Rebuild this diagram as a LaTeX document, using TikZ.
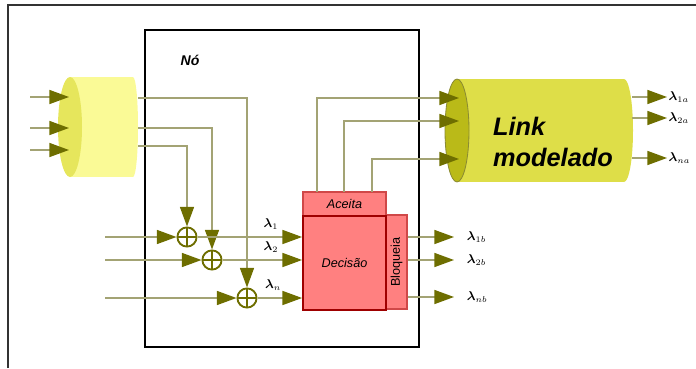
\documentclass[tikz,border=0pt]{standalone}
\usepackage{fontspec}
\setmainfont{Liberation Sans}
\usepackage{amsmath,bm}
\usetikzlibrary{arrows.meta}
\definecolor{LMOlive}{HTML}{6E6E00}
\definecolor{LMWire}{HTML}{A3A374}
\definecolor{LMBufBody}{HTML}{FAFA96}
\definecolor{LMBufFace}{HTML}{E6E65C}
\definecolor{LMLinkBody}{HTML}{DEDE48}
\definecolor{LMLinkFace}{HTML}{BABA18}
\definecolor{LMRed}{HTML}{FF8080}
\definecolor{LMRedLine}{HTML}{9E0000}
\definecolor{LMRedEdge}{HTML}{D04848}
\definecolor{LMFrame}{HTML}{333333}

\begin{document}
\begin{tikzpicture}[x=0.025cm,y=-0.025cm,
  wire/.style={LMWire,line width=1pt},
  arr/.style={wire,-{Triangle[length=14pt,width=10pt,color=LMOlive]}},
  sumnode/.style={circle,draw=LMOlive,line width=1.3pt,fill=white,minimum size=0.48cm,inner sep=0pt,
    path picture={\draw[LMOlive,line width=1.3pt] (path picture bounding box.north) -- (path picture bounding box.south)
      (path picture bounding box.west) -- (path picture bounding box.east);}},
  redbox/.style={draw=LMRedEdge,fill=LMRed,line width=.8pt,inner sep=0pt},
  lam/.style={inner sep=1pt,font=\small},
  lamout/.style={lam,anchor=west,inner xsep=9pt},
  label/.style={font=\small\itshape}]
\path[use as bounding box] (0,0) rectangle (696,368);
\draw[LMFrame,line width=1pt] (8,368) -- (8,5) -- (696,5);
% node frame
\node[draw,line width=1.3pt,minimum width=6.85cm,minimum height=7.925cm,inner sep=0pt] (no) at (282,188.5) {};
\node[font=\bfseries\itshape] (noText) at (190,60) {Nó};
% input buffer
\fill[LMBufBody] (70,77) rectangle (133,177);
\fill[LMBufBody] (133,127) ellipse [x radius=5, y radius=50];
\fill[LMBufFace] (70,127) ellipse [x radius=12, y radius=50];
% modelled link
\fill[LMLinkBody] (457,79) rectangle (624,182);
\fill[LMLinkBody] (624,130.5) ellipse [x radius=9, y radius=51.5];
\filldraw[fill=LMLinkFace,draw=LMOlive!80,line width=.6pt] (457,130.5) ellipse [x radius=12, y radius=51.5];
\node[font=\fontsize{18}{22}\selectfont\bfseries\itshape,align=left] (linkText) at (553,142) {Link\\modelado};
% decision block
\node[redbox,minimum width=2.075cm,minimum height=0.6cm] (acc) at (344.5,204) {};
\node[label] (accText) at (acc) {Aceita};
\node[redbox,minimum width=0.525cm,minimum height=2.35cm] (blk) at (396.5,262) {};
\node[font=\small,rotate=90] (blkText) at (blk) {Bloqueia};
\node[redbox,draw=LMRedLine,line width=1.3pt,minimum width=2.075cm,minimum height=2.35cm] (dec) at (344.5,263) {};
\node[label] (decText) at (dec) {Decisão};
% adders
\node[sumnode] (sum1) at (187,237) {};
\node[sumnode] (sum2) at (212,260) {};
\node[sumnode] (sum3) at (247,298) {};
% port points
\coordinate (srcA) at (30,97);
\coordinate (srcB) at (30,128);
\coordinate (srcC) at (30,150);
\coordinate (bufA) at (69,97);
\coordinate (bufB) at (69,128);
\coordinate (bufC) at (69,150);
\coordinate (bufOutA) at (138,98);
\coordinate (bufOutB) at (138,128);
\coordinate (bufOutC) at (138,146);
\coordinate (srcD) at (105,237);
\coordinate (srcE) at (105,260);
\coordinate (srcF) at (105,298);
\coordinate (tapA) at (317,192);
\coordinate (tapB) at (344,192);
\coordinate (tapC) at (372,192);
\coordinate (cylA) at (459,98);
\coordinate (cylB) at (459,121);
\coordinate (cylC) at (459,159);
\coordinate (cylOutA) at (632,97);
\coordinate (cylOutB) at (632,118);
\coordinate (cylOutC) at (632,158);
% rate labels
\node[lam] (lam1) at (271,224) {$\bm{\lambda}_1$};
\node[lam] (lam2) at (271,247) {$\bm{\lambda}_2$};
\node[lam] (lamn) at (273,285) {$\bm{\lambda}_n$};
\node[lamout] (lam1b) at (454,237) {$\bm{\lambda}_{1b}$};
\node[lamout] (lam2b) at (454,260) {$\bm{\lambda}_{2b}$};
\node[lamout] (lamnb) at (454,297) {$\bm{\lambda}_{nb}$};
\node[lam,anchor=west] (lam1a) at (667,97) {$\bm{\lambda}_{1a}$};
\node[lam,anchor=west] (lam2a) at (667,118) {$\bm{\lambda}_{2a}$};
\node[lam,anchor=west] (lamna) at (667,158) {$\bm{\lambda}_{na}$};
% connectors
\draw[arr] (srcA) -- (bufA);
\draw[arr] (srcB) -- (bufB);
\draw[arr] (srcC) -- (bufC);
\draw[arr] (bufOutA) -| (sum3.north);
\draw[arr] (bufOutB) -| (sum2.north);
\draw[arr] (bufOutC) -| (sum1.north);
\draw[arr] (srcD) -- (sum1.west);
\draw[arr] (srcE) -- (sum2.west);
\draw[arr] (srcF) -- (sum3.west);
\draw[arr] (sum1.east) -- (sum1 -| dec.west);
\draw[arr] (sum2.east) -- (sum2 -| dec.west);
\draw[arr] (sum3.east) -- (sum3 -| dec.west);
\draw[arr] (blk.east |- lam1b) -- (lam1b.west);
\draw[arr] (blk.east |- lam2b) -- (lam2b.west);
\draw[arr] (blk.east |- lamnb) -- (lamnb.west);
\draw[arr] (tapA) |- (cylA);
\draw[arr] (tapB) |- (cylB);
\draw[arr] (tapC) |- (cylC);
\draw[arr] (cylOutA) -- (lam1a.west);
\draw[arr] (cylOutB) -- (lam2a.west);
\draw[arr] (cylOutC) -- (lamna.west);
\end{tikzpicture}
\end{document}
